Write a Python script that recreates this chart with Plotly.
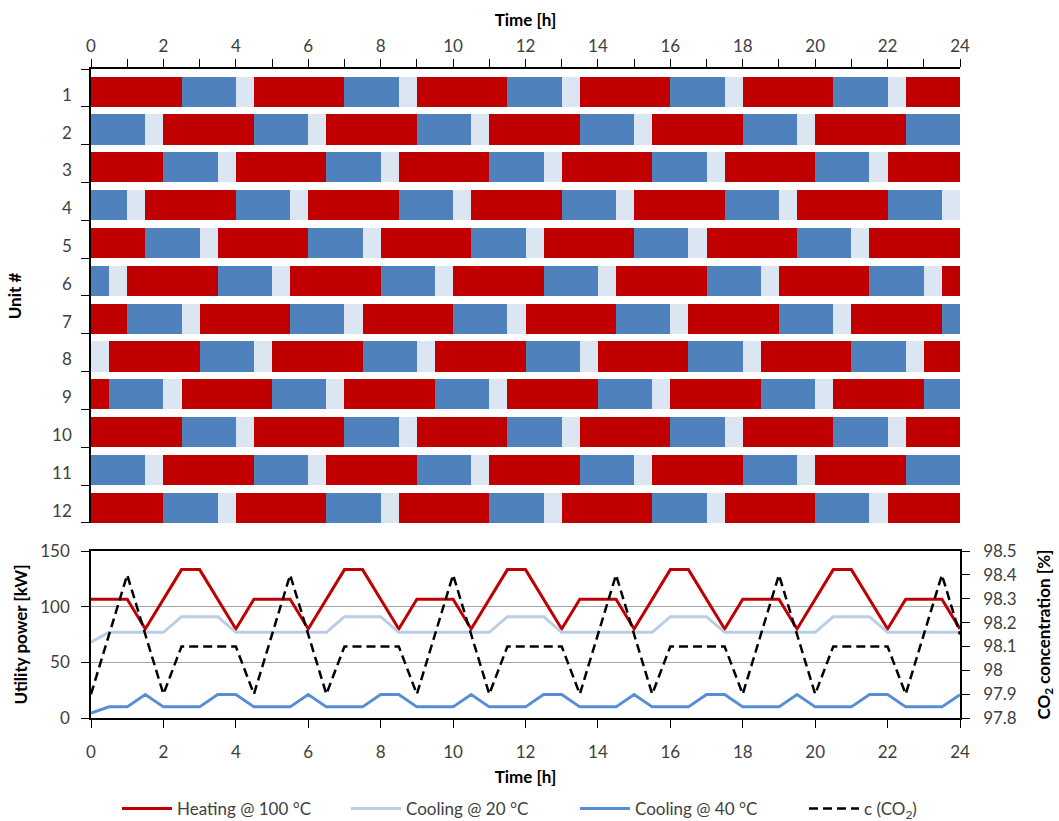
import plotly.graph_objects as go

# ---------------- data ----------------
units = [1, 2, 3, 4, 5, 6, 7, 8, 9, 10, 11, 12]
# start time [h] of a heating step for each unit (schedule repeats every cycle)
heating_start = [0, 2, 4, 1.5, 3.5, 1, 3, 0.5, 2.5, 0, 2, 4]
phase_names = ["Heating @ 100 °C", "Cooling @ 40 °C", "Cooling @ 20 °C"]
phase_hours = [2.5, 1.5, 0.5]
day_start, day_end = 0, 24

time_h = [0, 0.5, 1, 1.5, 2, 2.5, 3, 3.5, 4, 4.5, 5, 5.5, 6, 6.5, 7, 7.5, 8, 8.5,
          9, 9.5, 10, 10.5, 11, 11.5, 12, 12.5, 13, 13.5, 14, 14.5, 15, 15.5, 16,
          16.5, 17, 17.5, 18, 18.5, 19, 19.5, 20, 20.5, 21, 21.5, 22, 22.5, 23,
          23.5, 24]
heating_kw = [106.7, 106.7, 106.7, 80, 106.7, 133.3, 133.3, 106.7, 80,
              106.7, 106.7, 106.7, 80, 106.7, 133.3, 133.3, 106.7, 80,
              106.7, 106.7, 106.7, 80, 106.7, 133.3, 133.3, 106.7, 80,
              106.7, 106.7, 106.7, 80, 106.7, 133.3, 133.3, 106.7, 80,
              106.7, 106.7, 106.7, 80, 106.7, 133.3, 133.3, 106.7, 80,
              106.7, 106.7, 106.7, 80]
cooling20_kw = [68, 77, 77, 77, 77, 91, 91, 91, 77,
                77, 77, 77, 77, 77, 91, 91, 91, 77,
                77, 77, 77, 77, 77, 91, 91, 91, 77,
                77, 77, 77, 77, 77, 91, 91, 91, 77,
                77, 77, 77, 77, 77, 91, 91, 91, 77,
                77, 77, 77, 77]
cooling40_kw = [4.5, 10, 10, 21, 10, 10, 10, 21, 21,
                10, 10, 10, 21, 10, 10, 10, 21, 21,
                10, 10, 10, 21, 10, 10, 10, 21, 21,
                10, 10, 10, 21, 10, 10, 10, 21, 21,
                10, 10, 10, 21, 10, 10, 10, 21, 21,
                10, 10, 10, 21]
co2_pct = [97.9, 98.15, 98.4, 98.15, 97.9, 98.1, 98.1, 98.1, 98.1,
           97.9, 98.15, 98.4, 98.15, 97.9, 98.1, 98.1, 98.1, 98.1,
           97.9, 98.15, 98.4, 98.15, 97.9, 98.1, 98.1, 98.1, 98.1,
           97.9, 98.15, 98.4, 98.15, 97.9, 98.1, 98.1, 98.1, 98.1,
           97.9, 98.15, 98.4, 98.15, 97.9, 98.1, 98.1, 98.1, 98.1,
           97.9, 98.15, 98.4, 98.15]

# ---------------- styles ----------------
RED = "#C00000"
BLUE_BAR = "#4F81BD"
LIGHT_BAR = "#DCE6F2"
LIGHT_LINE = "#B9CDE5"
BLUE_LINE = "#558ED5"
bar_colors = [RED, BLUE_BAR, LIGHT_BAR]
FONT = "Lato"
FS = 17
TICK_FONT = dict(family=FONT, size=FS, color="#404040")
TITLE_FONT = dict(family=FONT, size=FS, color="#000000")

# ---------------- build schedule segments ----------------
cycle = sum(phase_hours)
seg = {p: dict(y=[], base=[], x=[]) for p in phase_names}
for u, s0 in zip(units, heating_start):
    t = s0 - cycle
    while t < day_end:
        a = t
        for name, d in zip(phase_names, phase_hours):
            b = a + d
            lo, hi = max(a, day_start), min(b, day_end)
            if hi > lo:
                seg[name]["y"].append(u)
                seg[name]["base"].append(lo)
                seg[name]["x"].append(hi - lo)
            a = b
        t += cycle

fig = go.Figure()
for name, col in zip(phase_names, bar_colors):
    fig.add_trace(go.Bar(
        y=seg[name]["y"], x=seg[name]["x"], base=seg[name]["base"],
        orientation="h", width=0.8, offset=-0.3,
        marker=dict(color=col, line=dict(width=0)),
        showlegend=False, hoverinfo="skip", xaxis="x", yaxis="y"))

line_w = 3
fig.add_trace(go.Scatter(x=time_h, y=heating_kw, mode="lines", name="Heating @ 100 °C",
                         line=dict(color=RED, width=line_w), xaxis="x2", yaxis="y2"))
fig.add_trace(go.Scatter(x=time_h, y=cooling20_kw, mode="lines", name="Cooling @ 20 °C",
                         line=dict(color=LIGHT_LINE, width=line_w), xaxis="x2", yaxis="y2"))
fig.add_trace(go.Scatter(x=time_h, y=cooling40_kw, mode="lines", name="Cooling @ 40 °C",
                         line=dict(color=BLUE_LINE, width=line_w), xaxis="x2", yaxis="y2"))
fig.add_trace(go.Scatter(x=time_h, y=co2_pct, mode="lines", name="c (CO<sub>2</sub>)",
                         line=dict(color="#000000", width=2.5, dash="9px,5px"),
                         xaxis="x2", yaxis="y3"))

top_dom = [0.3005, 1.0]
bot_dom = [0.0, 0.2573]
label_shift = 0.18  # tick labels sit slightly below row centre, as in the original

fig.update_layout(
    width=1059, height=821,
    margin=dict(l=91, r=99, t=69, b=103, autoexpand=False),
    paper_bgcolor="white", plot_bgcolor="white",
    barmode="overlay", bargap=0,
    font=dict(family=FONT, size=FS, color="#404040"),
    xaxis=dict(domain=[0, 1], anchor="y", side="top", range=[0, 24],
               tickmode="linear", tick0=0, dtick=2, ticks="outside", ticklen=8,
               tickcolor="#000000", showline=True, linecolor="#000000", linewidth=1.5,
               showgrid=False, zeroline=False, tickfont=TICK_FONT,
               minor=dict(tick0=0, dtick=1, ticks="outside", ticklen=8, tickcolor="#000000"),
               title=dict(text="<b>Time [h]</b>", font=TITLE_FONT, standoff=5)),
    yaxis=dict(domain=top_dom, anchor="x", range=[12.5, 0.5],
               tickmode="array", tickvals=[u + label_shift for u in units],
               ticktext=[str(u) for u in units],
               ticks="", showline=True, linecolor="#000000", linewidth=1.5,
               showgrid=False, zeroline=False, tickfont=TICK_FONT, ticklabelstandoff=14,
               minor=dict(tickmode="linear", tick0=0.5, dtick=1, ticks="outside",
                          ticklen=8, tickcolor="#000000", showgrid=False),
               title=dict(text="<b>Unit #</b>", font=TITLE_FONT, standoff=26)),
    xaxis2=dict(domain=[0, 1], anchor="y2", range=[0, 24], automargin=True,
                tickmode="linear", tick0=0, dtick=2, ticks="outside", ticklen=8,
                tickcolor="#000000", showline=True, linecolor="#000000", linewidth=1.5,
                mirror=True, showgrid=False, zeroline=False, tickfont=TICK_FONT,
                ticklabelstandoff=10,
                title=dict(text="<b>Time [h]</b>", font=TITLE_FONT, standoff=10)),
    yaxis2=dict(domain=bot_dom, anchor="x2", range=[0, 150], tickmode="linear",
                tick0=0, dtick=50, ticks="outside", ticklen=8, tickcolor="#000000",
                showline=True, linecolor="#000000", linewidth=1.5,
                showgrid=True, gridcolor="#A6A6A6", gridwidth=1.2, zeroline=False,
                tickfont=TICK_FONT, ticklabelstandoff=8,
                title=dict(text="<b>Utility power [kW]</b>", font=TITLE_FONT, standoff=8)),
    yaxis3=dict(overlaying="y2", anchor="x2", side="right", range=[97.8, 98.5],
                tickmode="linear", tick0=97.8, dtick=0.1, ticks="outside", ticklen=8,
                tickcolor="#000000", showline=True, linecolor="#000000", linewidth=1.5,
                showgrid=False, zeroline=False, tickfont=TICK_FONT, ticklabelstandoff=10,
                title=dict(text="<b>CO<sub>2</sub> concentration [%]</b>", font=TITLE_FONT,
                           standoff=22)),
    legend=dict(orientation="h", xref="paper", yref="paper",
                x=1.084, xanchor="right", y=-0.1402, yanchor="middle",
                itemwidth=50,
                font=dict(family=FONT, size=FS, color="#404040"),
                entrywidth=164, entrywidthmode="pixels", bgcolor="rgba(0,0,0,0)"),
)

fig.write_html("out.html")
